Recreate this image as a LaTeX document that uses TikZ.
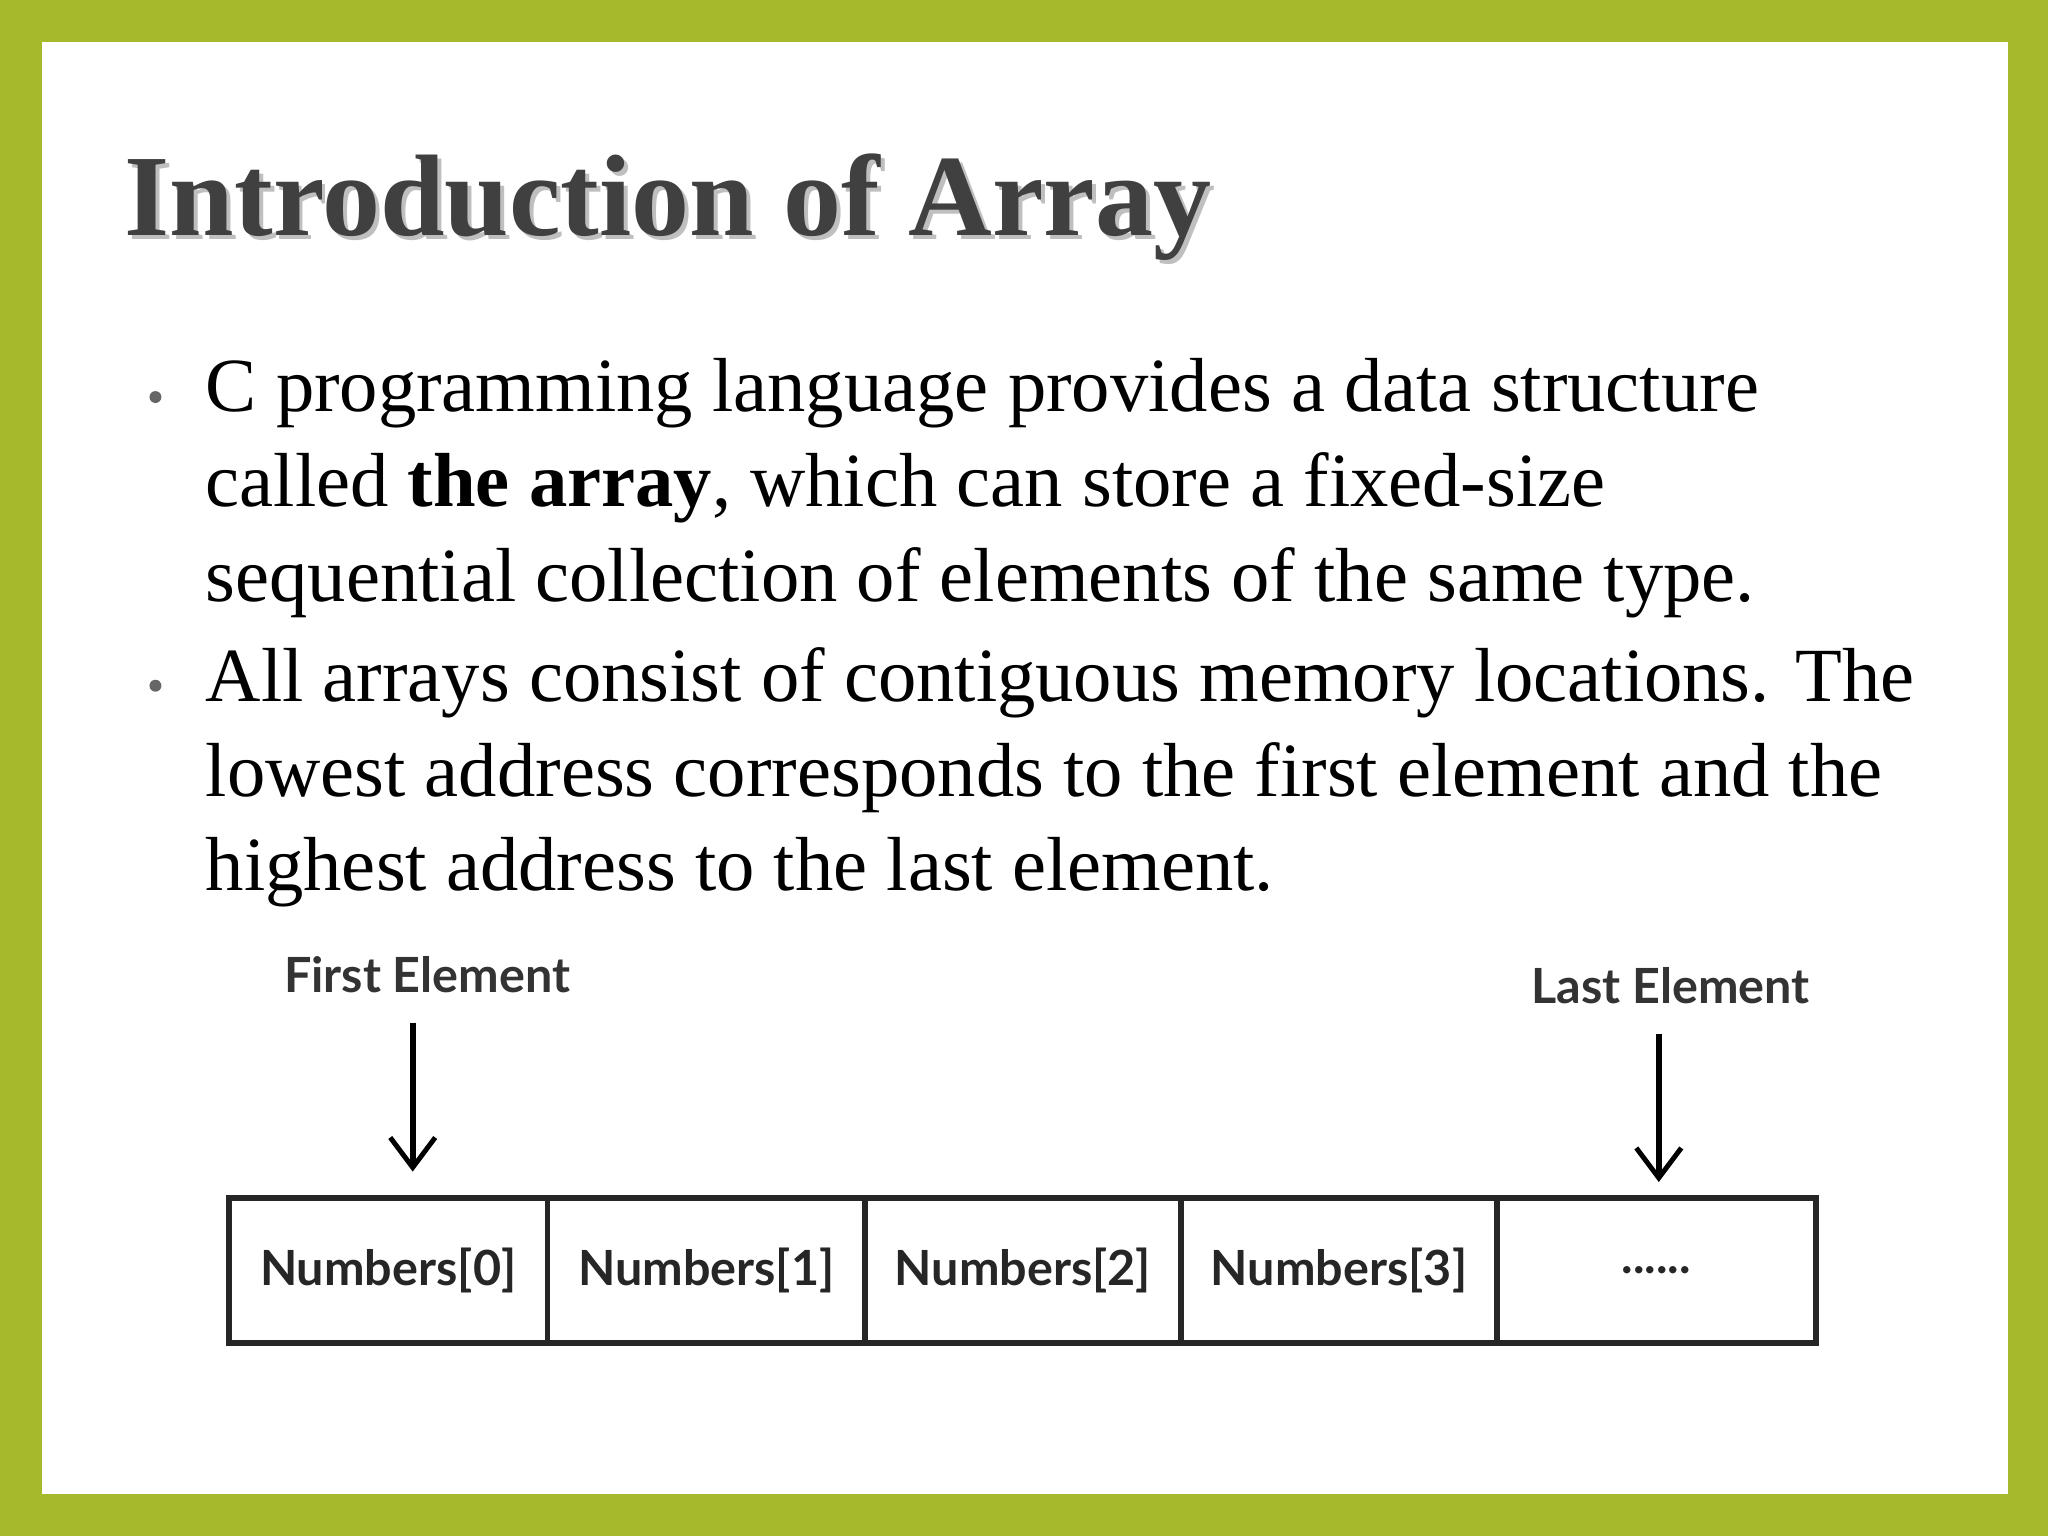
\documentclass[tikz,border=0pt]{standalone}
\usepackage{fontspec}
\setmainfont{Liberation Serif}
\newfontfamily\diag{Lato}
\usetikzlibrary{arrows.meta}
\definecolor{frame}{HTML}{A5B92A}
\definecolor{titlegray}{HTML}{404040}
\tikzset{
  cellbox/.style={draw=black!85,line width=1.6pt,minimum height=111*0.01306cm,inner sep=0pt,font=\diag\bfseries\fontsize{13.8}{16}\selectfont,text=black!85,anchor=north west},
  arr/.style={-{Straight Barb[length=3mm,width=4.5mm,line width=1.4pt]},line width=1.6pt},
  lab/.style={font=\diag\bfseries\fontsize{13.8}{16}\selectfont,text=black!80},
  bullet/.style={circle,fill=black!60,inner sep=1.2pt},
  body/.style={anchor=north west,align=left,inner sep=0pt,font=\fontsize{21.8}{27}\selectfont}
}
\begin{document}
\begin{tikzpicture}[x=0.01306cm,y=-0.01306cm]
\fill[frame] (0,0) rectangle (1568,1176);
\fill[white] (32,32) rectangle (1537,1144);
\node[anchor=base west,inner sep=0pt,text=black!25,font=\bfseries\fontsize{33}{38}\selectfont] (tsh) at (98,183) {Introduction of Array};
\node[anchor=base west,inner sep=0pt,text=titlegray,font=\bfseries\fontsize{33}{38}\selectfont] (title) at (95,180) {Introduction of Array};
\node[bullet] (b1) at (119,304) {};
\node[bullet] (b2) at (119,525) {};
\node[body] (t1) at (157,274) {C programming language provides a data structure\\called \textbf{the array}, which can store a fixed-size\\sequential collection of elements of the same type.};
\node[body] (t2) at (157,495) {All arrays consist of contiguous memory locations. The\\lowest address corresponds to the first element and the\\highest address to the last element.};
\node[cellbox,minimum width=244*0.01306cm] (c0) at (173,915) {Numbers[0]};
\node[cellbox,minimum width=243*0.01306cm] (c1) at (417,915) {Numbers[1]};
\node[cellbox,minimum width=242*0.01306cm] (c2) at (660,915) {Numbers[2]};
\node[cellbox,minimum width=242*0.01306cm] (c3) at (902,915) {Numbers[3]};
\node[cellbox,minimum width=244*0.01306cm] (c4) at (1144,915) {......};
\node[lab] (first) at (327,746) {First Element};
\node[lab] (last) at (1279,755) {Last Element};
\coordinate (a1) at (316,783); \coordinate (a1e) at (316,897);
\coordinate (a2) at (1270,792); \coordinate (a2e) at (1270,905);
\draw[arr] (a1) -- (a1e);
\draw[arr] (a2) -- (a2e);
\end{tikzpicture}
\end{document}
